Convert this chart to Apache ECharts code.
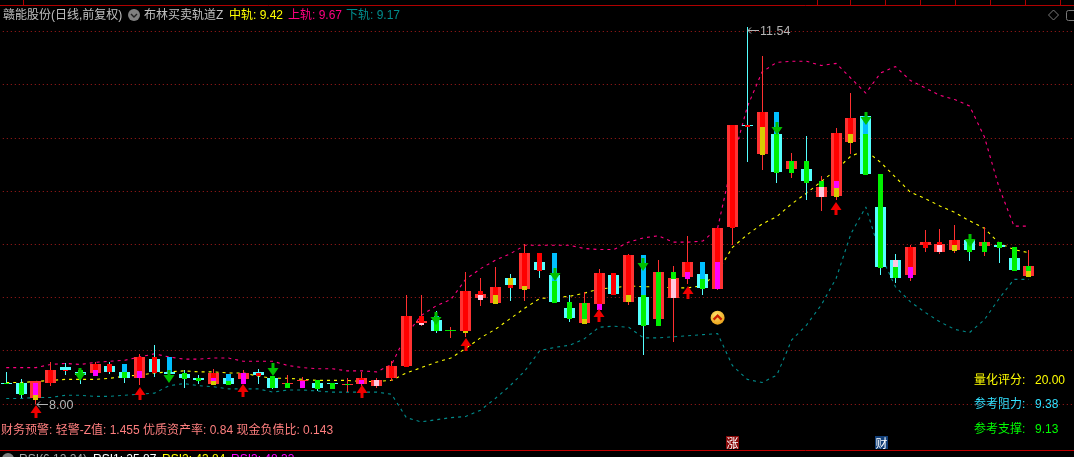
<!DOCTYPE html>
<html><head><meta charset="utf-8">
<style>html,body{margin:0;padding:0;background:#000;overflow:hidden}#c{width:1074px;height:457px}</style>
<script src="https://cdn.jsdelivr.net/npm/echarts@6/dist/echarts.min.js"></script>
</head><body><div id="c"></div>
<script>
const wickHigh=[8.30,8.23,8.21,8.39,8.38,8.34,8.39,8.39,8.37,8.47,8.55,8.44,8.32,8.27,8.33,8.28,8.32,8.33,8.26,8.27,8.25,8.22,8.20,8.24,8.30,8.24,8.40,9.02,9.02,8.87,8.72,9.24,9.18,9.29,9.22,9.50,9.42,9.42,9.02,9.05,9.27,9.23,9.41,9.40,9.35,9.30,9.58,9.33,9.65,10.62,11.54,11.27,10.74,10.36,10.52,10.14,10.59,10.92,10.74,10.16,9.41,9.49,9.63,9.64,9.68,9.59,9.66,9.52,9.47,9.45];
const wickLow=[8.19,8.05,8.00,8.17,8.27,8.19,8.26,8.28,8.20,8.18,8.25,8.25,8.15,8.19,8.18,8.18,8.19,8.19,8.14,8.20,8.15,8.12,8.14,8.11,8.17,8.15,8.21,8.35,8.73,8.67,8.62,8.63,8.92,8.94,8.97,8.97,9.18,8.95,8.77,8.75,8.79,9.02,8.93,8.46,8.73,8.58,9.13,9.02,9.07,9.49,10.27,10.20,10.08,10.12,9.92,9.81,9.92,10.35,10.15,9.21,9.14,9.15,9.43,9.41,9.42,9.34,9.39,9.32,9.25,9.19];
const wideTop=[8.20,8.20,8.21,8.32,8.35,8.30,8.37,8.36,8.30,8.44,8.42,8.30,8.28,8.24,8.29,8.24,8.29,8.30,8.24,8.20,8.22,8.20,8.20,8.19,8.24,8.22,8.36,8.83,8.78,8.79,8.69,9.06,9.03,9.10,9.18,9.42,9.33,9.21,8.90,8.95,9.23,9.21,9.40,9.00,9.24,9.18,9.33,9.22,9.65,10.62,10.62,10.74,10.54,10.28,10.21,10.04,10.55,10.69,10.71,9.85,9.35,9.47,9.52,9.50,9.54,9.54,9.52,9.49,9.37,9.30];
const wideBottom=[8.19,8.09,8.05,8.20,8.32,8.27,8.29,8.30,8.24,8.24,8.30,8.28,8.24,8.22,8.19,8.19,8.23,8.27,8.15,8.19,8.21,8.15,8.19,8.18,8.19,8.17,8.24,8.36,8.76,8.68,8.68,8.68,8.99,8.95,9.12,9.08,9.26,8.96,8.81,8.76,8.94,9.03,8.96,8.74,8.80,8.99,9.19,9.09,9.08,9.66,10.61,10.35,10.18,10.21,10.09,9.94,9.95,10.46,10.16,9.29,9.18,9.21,9.49,9.43,9.45,9.45,9.48,9.47,9.26,9.20];
const tones="CCRRCCRCCRCCCCRCRCCRRCCRRRRRRCGRRRCRCCCRRCRCRRRCRRCRCRCRRRCCCRRRRCRCCR".split("");
const innerBars=[
[[8.20,8.19,"g"]],[[8.20,8.08,"g"]],[[8.20,8.08,"m"],[8.08,8.04,"y"]],[[8.32,8.20,"r"]],[[8.32,8.31,"r"]],
[[8.32,8.27,"g"]],[[8.37,8.32,"r"],[8.32,8.26,"m"]],[[8.37,8.30,"r"]],[[8.37,8.30,"b"],[8.30,8.24,"g"]],[[8.44,8.31,"r"],[8.31,8.24,"m"]],
[[8.44,8.29,"r"]],[[8.44,8.30,"b"]],[[8.29,8.23,"g"]],[[8.24,8.21,"g"]],[[8.29,8.24,"r"],[8.24,8.21,"m"],[8.21,8.18,"y"]],
[[8.28,8.21,"b"],[8.21,8.18,"g"]],[[8.29,8.19,"m"]],[[8.29,8.26,"r"]],[[8.26,8.15,"g"]],[[8.20,8.15,"g"]],
[[8.21,8.15,"m"]],[[8.22,8.14,"g"]],[[8.20,8.14,"g"]],[[8.19,8.18,"g"]],[[8.24,8.22,"r"],[8.22,8.19,"m"]],
[[8.22,8.17,"p"]],[[8.36,8.24,"r"]],[[8.83,8.35,"r"]],[[8.83,8.76,"r"],[8.76,8.74,"p"]],[[8.83,8.79,"b"],[8.79,8.68,"g"]],
[],[[9.06,8.68,"r"],[8.68,8.67,"y"]],[[9.06,9.02,"r"],[9.02,8.98,"p"]],[[9.10,9.02,"r"],[9.02,8.94,"y"]],[[9.18,9.12,"y"],[9.12,9.09,"r"]],
[[9.42,9.11,"r"],[9.11,9.07,"y"]],[[9.42,9.25,"r"]],[[9.42,9.15,"b"],[9.15,8.95,"g"]],[[8.96,8.80,"g"]],[[8.95,8.80,"g"],[8.80,8.75,"y"]],
[[9.23,8.94,"r"],[8.94,8.88,"m"]],[[9.23,9.02,"r"]],[[9.40,9.02,"r"],[9.02,8.96,"y"]],[[9.40,9.02,"b"],[9.02,8.73,"g"]],[[9.24,8.73,"g"]],
[[9.24,9.17,"g"],[9.17,8.99,"p"]],[[9.33,9.24,"r"],[9.24,9.17,"m"]],[[9.33,9.17,"b"],[9.17,9.08,"g"]],[[9.65,9.33,"r"],[9.33,9.08,"m"]],[[10.62,9.65,"r"]],
[[10.62,10.60,"r"]],[[10.74,10.60,"r"],[10.60,10.34,"y"]],[[10.74,10.54,"b"],[10.54,10.17,"g"]],[[10.28,10.17,"g"]],[[10.28,10.08,"g"]],
[[10.09,10.04,"g"],[10.04,9.94,"p"]],[[10.55,10.09,"r"],[10.09,10.03,"m"],[10.03,9.94,"y"]],[[10.69,10.54,"r"],[10.54,10.45,"y"]],[[10.71,10.54,"b"],[10.54,10.15,"g"]],[[10.16,9.28,"g"]],
[[9.35,9.29,"p"],[9.29,9.18,"g"]],[[9.47,9.29,"r"],[9.29,9.18,"m"]],[[9.52,9.46,"r"]],[[9.52,9.49,"r"],[9.49,9.43,"p"]],[[9.54,9.49,"r"],[9.49,9.44,"y"]],
[[9.54,9.43,"g"]],[[9.52,9.43,"g"]],[[9.52,9.46,"g"]],[[9.47,9.25,"g"]],[[9.30,9.25,"g"],[9.25,9.19,"y"]]
];
const upperBand=[8.34,8.34,8.34,8.37,8.38,8.37,8.39,8.40,8.41,8.44,8.47,8.44,8.42,8.42,8.43,8.43,8.40,8.40,8.40,8.36,8.34,8.33,8.33,8.31,8.31,8.30,8.37,8.65,8.83,8.92,8.98,9.17,9.27,9.35,9.41,9.49,9.49,9.49,9.49,9.46,9.45,9.45,9.52,9.56,9.58,9.52,9.52,9.53,9.65,10.28,10.79,11.12,11.21,11.22,11.22,11.18,11.20,11.06,10.92,11.11,11.17,11.04,10.97,10.90,10.86,10.80,10.51,10.03,9.67,9.67];
const midBand=[8.20,8.20,8.21,8.22,8.23,8.23,8.23,8.24,8.26,8.27,8.29,8.30,8.31,8.30,8.30,8.29,8.29,8.26,8.24,8.24,8.23,8.22,8.22,8.22,8.21,8.21,8.22,8.29,8.34,8.39,8.43,8.52,8.62,8.70,8.80,8.90,8.99,9.00,9.01,9.04,9.08,9.09,9.11,9.10,9.10,9.09,9.09,9.11,9.24,9.47,9.59,9.69,9.76,9.88,9.98,10.09,10.20,10.33,10.38,10.27,10.13,9.99,9.93,9.86,9.80,9.72,9.65,9.51,9.45,9.42];
const lowerBand=[8.05,8.05,8.06,8.06,8.08,8.08,8.07,8.07,8.08,8.09,8.10,8.17,8.19,8.17,8.16,8.14,8.14,8.14,8.11,8.13,8.13,8.12,8.11,8.11,8.11,8.11,8.09,7.87,7.83,7.85,7.87,7.88,7.94,8.05,8.17,8.31,8.50,8.53,8.55,8.61,8.72,8.73,8.72,8.62,8.62,8.63,8.64,8.65,8.66,8.36,8.23,8.20,8.27,8.60,8.74,8.93,9.18,9.60,9.85,9.40,9.10,8.96,8.86,8.77,8.70,8.67,8.79,8.99,9.17,9.17];
const upArrowIndex=[2,9,16,24,31,40,46,56];
const upArrowPrice=[7.99,8.16,8.19,8.18,8.62,8.89,9.11,9.90];
const downArrowIndex=[5,11,18,29,37,43,52,58,65];
const downArrowPrice=[8.21,8.20,8.26,8.74,9.15,9.25,10.53,10.62,9.47];
const extremeIndex=[2,50];
const extremePrice=[8.00,11.54];
const extremeLabels=["8.00","11.54"];
const signalPrice=8.81;
const badges=[[49,"涨","#8a0a0a"],[59,"财","#123f78"]];
const titleParts=[["赣能股份(日线,前复权)",3,"#c0c0c0"],["布林买卖轨道Z",144,"#c0c0c0"],["中轨: 9.42",229,"#ffff00"],["上轨: 9.67",288,"#ff0080"],["下轨: 9.17",346,"#008c8c"]];
const riskNote="财务预警: 轻警-Z值: 1.455 优质资产率: 0.84 现金负债比: 0.143";
const panelRows=[["量化评分:","20.00",381,"#ffff00"],["参考阻力:","9.38",405,"#33e0ff"],["参考支撑:","9.13",430,"#00ff00"]];
const rsiParts=[["RSI(6,12,24)",19,"#a8a8a8"],["RSI1: 25.87",93,"#ffffff"],["RSI2: 43.84",162,"#ffff00"],["RSI3: 48.33",231,"#ff00ff"]];
const headerTicks=[23,817,850,885,920,955,990,1025,1060];
const categories=wickHigh.map((_,i)=>String(i+1)).concat(["","",""]);

const innerColors={r:"#ff0000",g:"#00f000",b:"#00bfff",m:"#ff00ff",y:"#d8cc00",p:"#ffc8e0"};
const wideColors={R:"#ff3232",C:"#54ffff",G:"#00e000"};
const wickColors={R:"#ff3030",C:"#54ffff",G:"#ff3030"};
const FONT='"Liberation Sans","Noto Sans CJK SC",sans-serif';

function rect(x,y1,y2,w,fill){
  const top=Math.round(Math.min(y1,y2));
  const h=Math.max(1,Math.round(Math.max(y1,y2))-top);
  return {type:"rect",shape:{x:Math.round(x-w/2),y:top,width:w,height:h},style:{fill:fill}};
}
function drawCandle(params,api){
  const i=api.value(0),t=tones[i];
  const cx=api.coord([i,wickHigh[i]])[0];
  const Y=p=>api.coord([i,p])[1];
  const kids=[rect(cx,Y(wickHigh[i]),Y(wickLow[i]),1,wickColors[t]),
              rect(cx,Y(wideTop[i]),Y(wideBottom[i]),11,wideColors[t])];
  innerBars[i].forEach(s=>kids.push(rect(cx,Y(s[0]),Y(s[1]),5,innerColors[s[2]])));
  return {type:"group",children:kids};
}
function arrowShape(x,y,dir,fill){
  const pts=[[x,y],[x+5.5,y+8*dir],[x+1.5,y+8*dir],[x+1.5,y+13*dir],[x-1.5,y+13*dir],[x-1.5,y+8*dir],[x-5.5,y+8*dir]];
  return {type:"polygon",shape:{points:pts},style:{fill:fill}};
}
function drawUp(params,api){
  const c=api.coord([api.value(0),api.value(1)]);
  return arrowShape(Math.round(c[0]),Math.round(c[1]),1,"#f00000");
}
function drawDown(params,api){
  const c=api.coord([api.value(0),api.value(1)]);
  return arrowShape(Math.round(c[0]),Math.round(c[1]),-1,"#00c000");
}
function drawExtreme(params,api){
  const k=params.dataIndex,c=api.coord([api.value(0),api.value(1)]);
  const x=Math.round(c[0]),y=Math.round(c[1]);
  const col="#b4b4b4";
  const isHigh=k===1;
  const oy=isHigh?y+3:y;
  return {type:"group",children:[
    {type:"polyline",shape:{points:[[x+1,oy+.5],[x+12,oy+.5]]},style:{stroke:col,fill:"none",lineWidth:1}},
    {type:"polyline",shape:{points:[[x+4,oy-2.5],[x+1,oy+.5],[x+4,oy+3.5]]},style:{stroke:col,fill:"none",lineWidth:1}},
    {type:"text",style:{text:extremeLabels[k],x:x+13,y:oy+2,fill:col,font:"12.5px "+FONT,verticalAlign:"middle"}}
  ]};
}
function drawSignal(params,api){
  const c=api.coord([api.value(0),api.value(1)]);
  const x=c[0],y=c[1];
  return {type:"group",children:[
    {type:"circle",shape:{cx:x,cy:y,r:7},style:{fill:new echarts.graphic.RadialGradient(.4,.3,.8,[{offset:0,color:"#ffe36a"},{offset:1,color:"#e89a10"}])}},
    {type:"polyline",shape:{points:[[x-4,y+2],[x,y-2],[x+4,y+2]]},style:{stroke:"#c81e00",fill:"none",lineWidth:2.2}}
  ]};
}
function drawBadge(params,api){
  const b=badges[params.dataIndex];
  const x=Math.round(api.coord([b[0],8])[0]);
  return {type:"group",children:[
    {type:"rect",shape:{x:x-6,y:436,width:13,height:13},style:{fill:b[2]}},
    {type:"text",style:{text:b[1],x:x+.5,y:443,fill:"#fff",font:'12px "Noto Sans CJK SC"',align:"center",verticalAlign:"middle"}}
  ]};
}
const txt=(text,x,y,fill)=>({type:"text",silent:true,style:{text,x,y,fill,font:"12px "+FONT,verticalAlign:"middle"}});
const graphics=[
  {type:"line",silent:true,shape:{x1:0,y1:5.5,x2:1074,y2:5.5},style:{stroke:"#b00000",lineWidth:1}},
  {type:"line",silent:true,shape:{x1:0,y1:450.5,x2:1074,y2:450.5},style:{stroke:"#c00000",lineWidth:1}}
];
headerTicks.forEach(x=>graphics.push({type:"line",silent:true,shape:{x1:x+.5,y1:0,x2:x+.5,y2:5},style:{stroke:"#b00000",lineWidth:1}}));
titleParts.forEach(p=>graphics.push(txt(p[0],p[1],16,p[2])));
graphics.push({type:"circle",silent:true,shape:{cx:134,cy:15,r:6},style:{fill:"#808080"}});
graphics.push({type:"polyline",silent:true,shape:{points:[[131,14],[134,17],[137,14]]},style:{stroke:"#222",fill:"none",lineWidth:1.4}});
graphics.push({type:"polygon",silent:true,shape:{points:[[1053.5,10],[1058.5,15],[1053.5,20],[1048.5,15]]},style:{stroke:"#7a7a7a",fill:"none",lineWidth:1}});
graphics.push({type:"rect",silent:true,shape:{x:1066.5,y:10.5,width:12,height:10,r:2},style:{stroke:"#7a7a7a",fill:"none",lineWidth:1}});
graphics.push(txt(riskNote,1,431,"#ff7f7f"));
panelRows.forEach(r=>{graphics.push(txt(r[0],974,r[2],r[3]));graphics.push(txt(r[1],1035,r[2],r[3]));});
graphics.push({type:"circle",silent:true,shape:{cx:8,cy:459,r:6},style:{fill:"#808080"}});
rsiParts.forEach(p=>graphics.push(txt(p[0],p[1],460,p[2])));

const bandLine=(name,data,color)=>({name,type:"line",data,symbol:"none",z:2,silent:true,
  lineStyle:{color,width:1.1,type:[3,4]}});

echarts.init(document.getElementById("c"),null,{renderer:"canvas"}).setOption({
  animation:false,backgroundColor:"#000",
  grid:{left:-1.2,top:0,width:1081.9,height:457,containLabel:false,outerBoundsMode:"none"},
  tooltip:{show:false},legend:{show:false},
  xAxis:{type:"category",data:categories,show:false,boundaryGap:true},
  yAxis:{type:"value",min:7.5,max:11.796,interval:0.5,
    axisLine:{show:false},axisTick:{show:false},axisLabel:{show:false},
    splitLine:{show:true,showMinLine:false,showMaxLine:false,lineStyle:{color:"#a81c1c",width:1,type:[1,3]}}},
  graphic:{elements:graphics},
  series:[
    bandLine("上轨",upperBand,"#ff0080"),
    bandLine("中轨",midBand,"#ffff00"),
    bandLine("下轨",lowerBand,"#008c8c"),
    {name:"K",type:"custom",z:3,silent:true,clip:false,renderItem:drawCandle,data:wickHigh.map((_,i)=>[i]),encode:{x:0}},
    {name:"买",type:"custom",z:4,silent:true,clip:false,renderItem:drawUp,data:upArrowIndex.map((x,i)=>[x,upArrowPrice[i]])},
    {name:"卖",type:"custom",z:4,silent:true,clip:false,renderItem:drawDown,data:downArrowIndex.map((x,i)=>[x,downArrowPrice[i]])},
    {name:"极值",type:"custom",z:5,silent:true,clip:false,renderItem:drawExtreme,data:extremeIndex.map((x,i)=>[x,extremePrice[i]])},
    {name:"信号",type:"custom",z:5,silent:true,clip:false,renderItem:drawSignal,data:[[48,signalPrice]]},
    {name:"标记",type:"custom",z:5,silent:true,clip:false,renderItem:drawBadge,data:badges.map(b=>[b[0],8])}
  ]
});
</script></body></html>
